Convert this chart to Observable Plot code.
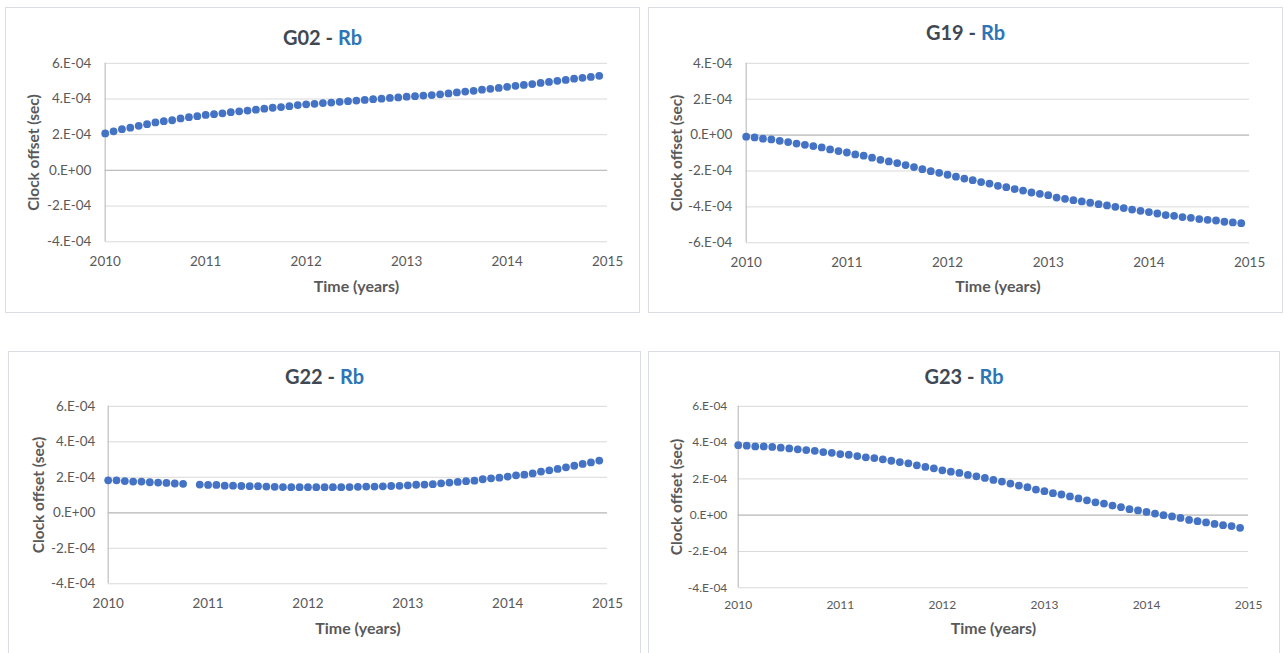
<!DOCTYPE html>
<html>
<head>
<meta charset="utf-8">
<script src="https://cdn.jsdelivr.net/npm/d3@7"></script>
<script src="https://cdn.jsdelivr.net/npm/@observablehq/plot@0.6"></script>
<style>
  html, body { margin: 0; padding: 0; background: #fff; }
  body { position: relative; width: 1287px; height: 653px; overflow: hidden; font-family: Lato, "Open Sans", sans-serif; }
  .panel { position: absolute; border: 1px solid #d9dde3; box-sizing: border-box; background: #fff; overflow: hidden; }
  .panel svg { position: absolute; left: -1px; top: -1px; }
  .title { position: absolute; left: 0; right: 0; text-align: center; font-weight: bold; font-size: 20px; line-height: 24px; color: #404854; z-index: 2; }
  .title .clk { color: #2e75b6; }
</style>
</head>
<body>
<script>
// Monthly clock-offset estimates, 2010-01 through 2014-12 (values in units of 1e-4 s)
const epochs = d3.range(60).map(m => 2010 + m / 12);

const g02 = [2.07, 2.19, 2.31, 2.39, 2.50, 2.59, 2.69, 2.76, 2.81, 2.91,
             2.98, 3.04, 3.11, 3.15, 3.20, 3.26, 3.31, 3.35, 3.40, 3.46,
             3.51, 3.55, 3.60, 3.66, 3.70, 3.73, 3.77, 3.80, 3.84, 3.88,
             3.91, 3.95, 3.99, 4.02, 4.06, 4.09, 4.13, 4.16, 4.19, 4.22,
             4.26, 4.31, 4.37, 4.42, 4.46, 4.52, 4.57, 4.62, 4.68, 4.74,
             4.79, 4.84, 4.90, 4.96, 5.02, 5.07, 5.14, 5.19, 5.24, 5.30];

const g19 = [-0.09, -0.13, -0.20, -0.24, -0.32, -0.39, -0.47, -0.54, -0.61, -0.69,
             -0.80, -0.89, -0.97, -1.08, -1.15, -1.26, -1.38, -1.47, -1.56, -1.67,
             -1.78, -1.90, -2.01, -2.10, -2.21, -2.32, -2.42, -2.51, -2.62, -2.70,
             -2.83, -2.90, -3.01, -3.09, -3.20, -3.27, -3.35, -3.48, -3.55, -3.63,
             -3.70, -3.77, -3.85, -3.92, -4.00, -4.07, -4.15, -4.22, -4.29, -4.37,
             -4.46, -4.50, -4.57, -4.61, -4.68, -4.72, -4.76, -4.83, -4.87, -4.91];

// G22 has no estimate for November 2010
const g22 = [1.83, 1.83, 1.79, 1.76, 1.76, 1.72, 1.70, 1.68, 1.65, 1.63,
             null, 1.59, 1.57, 1.57, 1.53, 1.53, 1.51, 1.50, 1.50, 1.48,
             1.46, 1.45, 1.44, 1.44, 1.44, 1.44, 1.44, 1.44, 1.44, 1.45,
             1.46, 1.48, 1.48, 1.49, 1.51, 1.52, 1.55, 1.58, 1.59, 1.61,
             1.66, 1.70, 1.74, 1.78, 1.81, 1.89, 1.94, 1.98, 2.04, 2.11,
             2.15, 2.22, 2.32, 2.39, 2.47, 2.56, 2.65, 2.75, 2.84, 2.94];

const g23 = [3.86, 3.83, 3.79, 3.79, 3.76, 3.72, 3.68, 3.63, 3.59, 3.55,
             3.48, 3.44, 3.37, 3.33, 3.26, 3.19, 3.15, 3.08, 3.00, 2.93,
             2.86, 2.75, 2.66, 2.58, 2.47, 2.40, 2.33, 2.22, 2.14, 2.05,
             1.94, 1.85, 1.74, 1.63, 1.54, 1.41, 1.32, 1.21, 1.14, 1.03,
             0.92, 0.82, 0.71, 0.64, 0.53, 0.44, 0.33, 0.26, 0.18, 0.09,
             0.00, -0.07, -0.15, -0.26, -0.33, -0.40, -0.48, -0.55, -0.60, -0.70];

const satellites = ["G02", "G19", "G22", "G23"];
const clockType = "Rb";

const xTicks = [2010, 2011, 2012, 2013, 2014, 2015];
const xTickLabels = ["2010", "2011", "2012", "2013", "2014", "2015"];

const yTicksUp = [-4e-4, -2e-4, 0, 2e-4, 4e-4, 6e-4];
const yLabelsUp = ["-4.E-04", "-2.E-04", "0.E+00", "2.E-04", "4.E-04", "6.E-04"];
const yTicksDown = [-6e-4, -4e-4, -2e-4, 0, 2e-4, 4e-4];
const yLabelsDown = ["-6.E-04", "-4.E-04", "-2.E-04", "0.E+00", "2.E-04", "4.E-04"];

const xTitle = "Time (years)";
const yTitle = "Clock offset (sec)";

// Layout of the 2x2 grid: box = [left, top, width, height], margin = [top, right, bottom, left]
const panels = [
  {sat: satellites[0], values: g02, ticks: yTicksUp, labels: yLabelsUp,
   box: [5, 7, 635, 306], margin: [56, 31, 71, 100], titleY: 29,
   tickFont: 13.5, yPad: 14, xPad: 15, xTitleDy: 50, yTitleDx: -71},
  {sat: satellites[1], values: g19, ticks: yTicksDown, labels: yLabelsDown,
   box: [648, 7, 635, 306], margin: [56, 32, 70, 98], titleY: 24,
   tickFont: 13.5, yPad: 14, xPad: 15, xTitleDy: 49, yTitleDx: -69},
  {sat: satellites[2], values: g22, ticks: yTicksUp, labels: yLabelsUp,
   box: [8, 351, 633, 307], margin: [55, 32, 74, 100], titleY: 24,
   tickFont: 13.5, yPad: 13, xPad: 15, xTitleDy: 50, yTitleDx: -69},
  {sat: satellites[3], values: g23, ticks: yTicksUp, labels: yLabelsUp,
   box: [648, 351, 632, 307], margin: [55, 30, 70, 90], titleY: 24,
   tickFont: 12, yPad: 11, xPad: 13, xTitleDy: 46, yTitleDx: -61}
];

function drawPanel(p) {
  const [left, top, width, height] = p.box;
  const [mt, mr, mb, ml] = p.margin;

  const box = document.createElement("div");
  box.className = "panel";
  Object.assign(box.style, {left: left + "px", top: top + "px", width: width + "px", height: height + "px"});

  const title = document.createElement("div");
  title.className = "title";
  title.style.top = (p.titleY - 12) + "px";
  title.append(p.sat + " - ");
  const clk = document.createElement("span");
  clk.className = "clk";
  clk.textContent = clockType;
  title.append(clk);

  const rows = epochs.map((t, i) => ({t, offset: p.values[i] == null ? null : p.values[i] * 1e-4}));

  const chart = Plot.plot({
    width, height,
    marginTop: mt, marginRight: mr, marginBottom: mb, marginLeft: ml,
    style: {background: "transparent", color: "#595959", fontFamily: "Lato, 'Open Sans', sans-serif", overflow: "visible"},
    x: {domain: [2010, 2015]},
    y: {domain: [p.ticks[0], p.ticks[p.ticks.length - 1]]},
    marks: [
      Plot.gridY(p.ticks, {stroke: "#d9d9d9", strokeOpacity: 1}),
      Plot.ruleY([0], {stroke: "#bfbfbf", strokeWidth: 1.2}),
      Plot.ruleX([2010], {stroke: "#bfbfbf", strokeWidth: 1.2}),
      Plot.axisY(p.ticks, {tickSize: 0, tickPadding: p.yPad, fontSize: p.tickFont, label: null,
        tickFormat: d => p.labels[p.ticks.indexOf(d)]}),
      Plot.axisX(xTicks, {tickSize: 0, tickPadding: p.xPad, fontSize: p.tickFont, label: null,
        tickFormat: d => xTickLabels[xTicks.indexOf(d)]}),
      Plot.text([xTitle], {text: d => d, frameAnchor: "bottom", textAnchor: "middle", dy: p.xTitleDy,
        fontSize: 16, fontWeight: "bold", fill: "#595959"}),
      Plot.text([yTitle], {text: d => d, frameAnchor: "left", textAnchor: "middle", dx: p.yTitleDx, rotate: -90,
        fontSize: 15.5, fontWeight: "bold", fill: "#595959"}),
      Plot.dot(rows, {x: "t", y: "offset", r: 3.9, fill: "#4472c4"})
    ]
  });

  box.append(chart, title);
  document.body.append(box);
}

panels.forEach(drawPanel);
</script>
</body>
</html>
